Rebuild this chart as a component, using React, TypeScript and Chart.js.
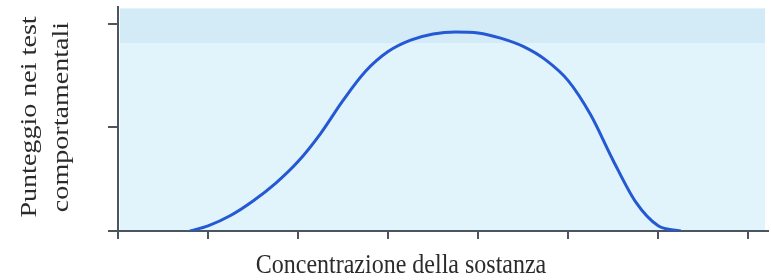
import React, { useEffect, useRef } from "react";
import { Chart, registerables } from "chart.js";

Chart.register(...registerables);

// Concentration (x, in tick units) and behavioural test score (y, in tick units)
const concentration = [0.8, 1.0, 1.25, 1.5, 1.75, 2.0, 2.25, 2.5, 2.75, 3.0, 3.25, 3.5, 3.75, 4.0, 4.25, 4.5, 4.75, 5.0, 5.25, 5.5, 5.75, 6.0, 6.25];
const score = [0.0, 0.05, 0.15, 0.29, 0.46, 0.67, 0.94, 1.26, 1.54, 1.73, 1.84, 1.9, 1.92, 1.91, 1.86, 1.78, 1.65, 1.45, 1.12, 0.68, 0.28, 0.05, 0.0];

const xTicks = [0, 1, 2, 3, 4, 5, 6, 7];
const yTicks = [0, 1, 2];

const xTitle = "Concentrazione della sostanza";
const yTitle = ["Punteggio nei test", "comportamentali"];

const AXIS = "#4b5560";
const TEXT = "#2b2b2b";
const FONT = "'Liberation Serif', 'DejaVu Serif', serif";

const panelPlugin = {
  id: "panel",
  beforeDraw(chart: any) {
    const { ctx, chartArea } = chart;
    const { left, top, right, bottom } = chartArea;
    ctx.save();
    ctx.fillStyle = "#e1f4fb";
    ctx.fillRect(left + 2, top + 1, right - left - 5, bottom - top - 1);
    ctx.fillStyle = "#d3ebf6";
    ctx.fillRect(left + 2, top + 2, right - left - 5, 34);
    ctx.restore();
  },
};

const titlesPlugin = {
  id: "titles",
  afterDraw(chart: any) {
    const { ctx } = chart;
    ctx.save();
    ctx.fillStyle = TEXT;
    ctx.font = `24px ${FONT}`;
    ctx.textAlign = "center";
    ctx.textBaseline = "alphabetic";
    // x title
    ctx.save();
    ctx.translate(401, 273);
    ctx.scale(1, 1.15);
    ctx.fillText(xTitle, 0, 0);
    ctx.restore();
    // y title (two lines, rotated)
    const baselines = [36, 68];
    yTitle.forEach((line, i) => {
      ctx.save();
      ctx.translate(baselines[i], 117);
      ctx.rotate(-Math.PI / 2);
      ctx.scale(1.17, 1);
      ctx.fillText(line, 0, 0);
      ctx.restore();
    });
    ctx.restore();
  },
};

export default function App() {
  const ref = useRef<HTMLCanvasElement>(null);

  useEffect(() => {
    document.body.style.margin = "0";
    const canvas = ref.current;
    if (!canvas) return;
    const points = concentration.map((x, i) => ({ x, y: score[i] }));
    const chart = new Chart(canvas, {
      type: "line",
      data: {
        datasets: [
          {
            data: points,
            borderColor: "#2458d4",
            borderWidth: 3,
            pointRadius: 0,
            fill: false,
            cubicInterpolationMode: "monotone",
          } as any,
        ],
      },
      options: {
        animation: false,
        responsive: false,
        devicePixelRatio: 1,
        layout: { padding: { left: 0, right: 3, top: 7, bottom: 0 } },
        plugins: {
          legend: { display: false },
          tooltip: { enabled: false },
        },
        scales: {
          x: {
            type: "linear",
            min: 0,
            max: 7.22,
            afterBuildTicks: (s: any) => {
              s.ticks = xTicks.map((v) => ({ value: v }));
            },
            afterFit: (s: any) => {
              s.height = 49;
            },
            ticks: { display: false },
            grid: {
              drawOnChartArea: false,
              drawTicks: true,
              tickLength: 8,
              color: AXIS,
              lineWidth: 2,
            },
            border: { display: true, color: AXIS, width: 2 },
          },
          y: {
            type: "linear",
            min: 0,
            max: 2.16,
            afterBuildTicks: (s: any) => {
              s.ticks = yTicks.map((v) => ({ value: v }));
            },
            afterFit: (s: any) => {
              s.width = 118;
            },
            ticks: { display: false },
            grid: {
              drawOnChartArea: false,
              drawTicks: true,
              tickLength: 10,
              color: AXIS,
              lineWidth: 2,
            },
            border: { display: true, color: AXIS, width: 2 },
          },
        },
      } as any,
      plugins: [panelPlugin, titlesPlugin],
    });
    return () => chart.destroy();
  }, []);

  return (
    <div style={{ width: 771, height: 280 }}>
      <canvas ref={ref} width={771} height={280} style={{ display: "block", width: 771, height: 280 }} />
    </div>
  );
}
